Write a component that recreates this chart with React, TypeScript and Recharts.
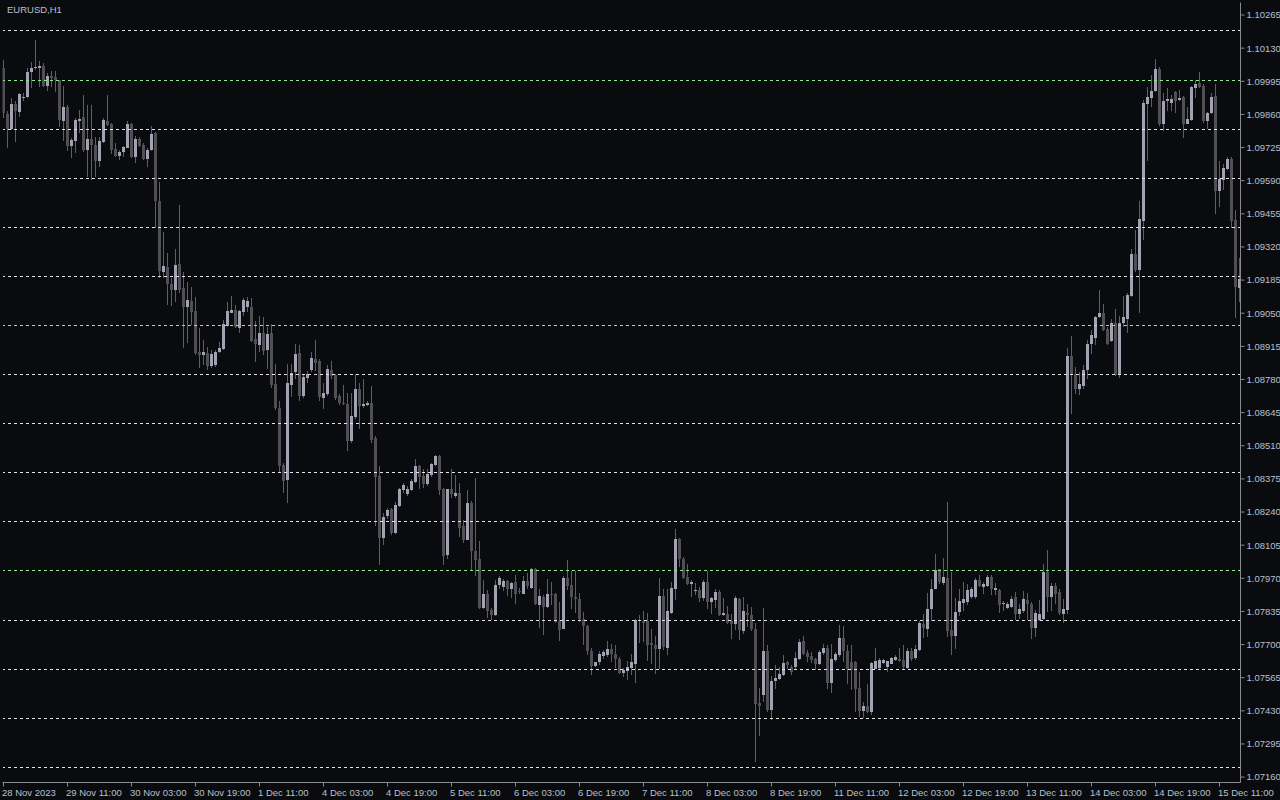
import { ComposedChart, Bar, XAxis, YAxis, ReferenceLine } from "recharts";

// EURUSD H1 candles, 28 Nov 2023 19:00 .. 15 Dec 2023
const opens = [
  1.10049, 1.09862, 1.098, 1.09903, 1.09868, 1.09925, 1.09933, 1.10031, 1.10051, 1.10051,
  1.10058, 1.09974, 1.10017, 1.10013, 1.1, 1.09835, 1.09891, 1.09733, 1.09752, 1.09835,
  1.09849, 1.09715, 1.0976, 1.09736, 1.09671, 1.09748, 1.09834, 1.09821, 1.0972, 1.09692,
  1.09705, 1.09725, 1.0982, 1.09688, 1.0976, 1.09734, 1.0968, 1.09713, 1.09783, 1.09506,
  1.09219, 1.09237, 1.09171, 1.09144, 1.09249, 1.09152, 1.09076, 1.09099, 1.09059, 1.08891,
  1.08879, 1.08888, 1.08834, 1.08838, 1.08891, 1.08906, 1.08997, 1.09052, 1.09065, 1.08991,
  1.09056, 1.09076, 1.09077, 1.08944, 1.08921, 1.08969, 1.08901, 1.08969, 1.08761, 1.08665,
  1.08433, 1.0837, 1.08757, 1.08811, 1.08887, 1.08713, 1.08786, 1.08818, 1.08865, 1.08856,
  1.08705, 1.0872, 1.08819, 1.08799, 1.08713, 1.08686, 1.08679, 1.08528, 1.08627, 1.0874,
  1.08671, 1.08676, 1.08683, 1.0854, 1.08385, 1.08134, 1.08222, 1.08251, 1.08155, 1.08264,
  1.08328, 1.08313, 1.0833, 1.08362, 1.08426, 1.08387, 1.08354, 1.08389, 1.0843, 1.08467,
  1.08332, 1.08063, 1.08332, 1.08305, 1.08316, 1.08183, 1.08128, 1.08278, 1.08083, 1.08047,
  1.07849, 1.07908, 1.0784, 1.07822, 1.07942, 1.07934, 1.07961, 1.07928, 1.07953, 1.07918,
  1.07908, 1.07958, 1.07932, 1.08006, 1.07863, 1.07892, 1.07855, 1.07904, 1.07904, 1.07794,
  1.07765, 1.07973, 1.07941, 1.07892, 1.07884, 1.07806, 1.07775, 1.07675, 1.07612, 1.07629,
  1.07652, 1.07656, 1.0768, 1.07663, 1.07643, 1.07586, 1.07594, 1.07606, 1.07622, 1.07802,
  1.07794, 1.07794, 1.07708, 1.077, 1.07681, 1.07896, 1.07688, 1.0783, 1.07928, 1.0813,
  1.08048, 1.07977, 1.07946, 1.0792, 1.07924, 1.07888, 1.07953, 1.07874, 1.07882, 1.07916,
  1.0782, 1.07826, 1.07794, 1.07782, 1.07885, 1.07754, 1.07829, 1.07822, 1.07765, 1.07463,
  1.07493, 1.07675, 1.07435, 1.07552, 1.07561, 1.07574, 1.0763, 1.07608, 1.07608, 1.07642,
  1.07716, 1.07667, 1.07653, 1.07642, 1.07619, 1.07667, 1.07687, 1.07544, 1.07639, 1.07656,
  1.07728, 1.07673, 1.0763, 1.0763, 1.07524, 1.0743, 1.0745, 1.07425, 1.07601, 1.07604,
  1.07626, 1.07607, 1.07622, 1.07638, 1.07642, 1.07637, 1.07605, 1.07675, 1.07644, 1.07679,
  1.07785, 1.07765, 1.07843, 1.07928, 1.08007, 1.07952, 1.07973, 1.0776, 1.07733, 1.07833,
  1.07871, 1.07873, 1.07892, 1.07892, 1.07965, 1.07933, 1.07939, 1.07975, 1.07922, 1.07923,
  1.07867, 1.07848, 1.07853, 1.07892, 1.07825, 1.07836, 1.07883, 1.07864, 1.07767, 1.07802,
  1.07806, 1.07996, 1.07895, 1.07939, 1.07914, 1.07825, 1.07841, 1.08874, 1.08802, 1.0874,
  1.08752, 1.08817, 1.08923, 1.08951, 1.09036, 1.09051, 1.08986, 1.08936, 1.09012, 1.08799,
  1.09009, 1.09025, 1.09121, 1.09293, 1.09227, 1.09425, 1.09902, 1.09925, 1.09956, 1.10045,
  1.09822, 1.09914, 1.09908, 1.09952, 1.0992, 1.09931, 1.09822, 1.09838, 1.09967, 1.09989,
  1.09975, 1.09835, 1.09866, 1.09936, 1.0955, 1.09593, 1.09637, 1.09679, 1.09428, 1.09154,
];

const highs = [
  1.10083, 1.09872, 1.09926, 1.09913, 1.09949, 1.09949, 1.10051, 1.10072, 1.10164, 1.10079,
  1.10069, 1.10028, 1.10035, 1.10038, 1.10001, 1.09977, 1.09899, 1.09763, 1.09845, 1.09879,
  1.0994, 1.09899, 1.09899, 1.0977, 1.0977, 1.09846, 1.0994, 1.09827, 1.09743, 1.09715,
  1.09732, 1.09835, 1.09824, 1.09773, 1.09767, 1.09743, 1.09722, 1.09812, 1.0979, 1.09585,
  1.09382, 1.09294, 1.09192, 1.0931, 1.09491, 1.09218, 1.09178, 1.09158, 1.09117, 1.08991,
  1.0894, 1.08913, 1.08902, 1.08899, 1.08933, 1.09022, 1.09097, 1.0912, 1.09083, 1.09063,
  1.0911, 1.09117, 1.09114, 1.09019, 1.09037, 1.09033, 1.08992, 1.09005, 1.08842, 1.08693,
  1.08441, 1.08842, 1.08842, 1.08924, 1.0892, 1.08801, 1.08815, 1.08893, 1.0894, 1.08863,
  1.08767, 1.08838, 1.08856, 1.08804, 1.0872, 1.08757, 1.08723, 1.08723, 1.08801, 1.08765,
  1.08781, 1.08693, 1.08754, 1.0855, 1.08427, 1.08237, 1.08257, 1.08257, 1.08282, 1.08339,
  1.08359, 1.08346, 1.08373, 1.08455, 1.08433, 1.08417, 1.08417, 1.08441, 1.08471, 1.08471,
  1.08339, 1.08335, 1.08417, 1.08391, 1.08357, 1.08206, 1.0833, 1.08285, 1.0838, 1.08121,
  1.07965, 1.07921, 1.07849, 1.07965, 1.0798, 1.07969, 1.07965, 1.07956, 1.07983, 1.07931,
  1.0798, 1.0799, 1.0801, 1.0801, 1.07926, 1.07901, 1.07969, 1.07956, 1.07912, 1.07874,
  1.0798, 1.08043, 1.07999, 1.07999, 1.07912, 1.07833, 1.07779, 1.07688, 1.07629, 1.07673,
  1.07677, 1.07716, 1.07704, 1.077, 1.07648, 1.07605, 1.07635, 1.07663, 1.07806, 1.0782,
  1.07836, 1.0783, 1.07765, 1.07735, 1.07972, 1.07928, 1.07928, 1.07956, 1.08169, 1.08135,
  1.08055, 1.0803, 1.07965, 1.07949, 1.07935, 1.07965, 1.07999, 1.07894, 1.07928, 1.07922,
  1.07888, 1.07856, 1.07826, 1.07898, 1.07888, 1.07892, 1.07867, 1.07853, 1.07789, 1.07524,
  1.0785, 1.07697, 1.0757, 1.07615, 1.07608, 1.07659, 1.07635, 1.07615, 1.07669, 1.07724,
  1.07733, 1.07676, 1.07669, 1.07645, 1.07676, 1.07703, 1.07697, 1.07701, 1.07669, 1.07781,
  1.07774, 1.07697, 1.07697, 1.07631, 1.07588, 1.07468, 1.0754, 1.07629, 1.07687, 1.07645,
  1.07642, 1.07635, 1.07649, 1.07656, 1.07686, 1.07697, 1.07687, 1.07686, 1.07699, 1.07795,
  1.07826, 1.0791, 1.07969, 1.08067, 1.08009, 1.08053, 1.08279, 1.07996, 1.07891, 1.07928,
  1.07955, 1.07948, 1.07935, 1.07971, 1.07985, 1.07955, 1.07985, 1.07985, 1.0795, 1.07926,
  1.07879, 1.07875, 1.07898, 1.07914, 1.07864, 1.07919, 1.07911, 1.07872, 1.07841, 1.07883,
  1.08028, 1.08085, 1.0795, 1.0795, 1.07926, 1.07887, 1.08908, 1.08958, 1.0883, 1.08811,
  1.08838, 1.08942, 1.08983, 1.0904, 1.09145, 1.09087, 1.08993, 1.09025, 1.09067, 1.0904,
  1.09121, 1.09134, 1.0931, 1.09391, 1.09508, 1.0992, 1.0997, 1.10022, 1.10084, 1.10053,
  1.09947, 1.09967, 1.09941, 1.09955, 1.09959, 1.09936, 1.09889, 1.09975, 1.10001, 1.10033,
  1.09983, 1.09871, 1.09947, 1.09983, 1.09671, 1.09656, 1.09687, 1.09687, 1.09472, 1.09274,
];

const lows = [
  1.09845, 1.09722, 1.09797, 1.09749, 1.09849, 1.09913, 1.09926, 1.09967, 1.10039, 1.09971,
  1.09971, 1.09956, 1.0997, 1.09953, 1.09807, 1.09752, 1.09709, 1.09681, 1.09702, 1.09783,
  1.09705, 1.09607, 1.09593, 1.09607, 1.09647, 1.09743, 1.09811, 1.09699, 1.09688, 1.09675,
  1.09688, 1.09722, 1.09681, 1.09664, 1.09727, 1.09675, 1.09645, 1.09709, 1.09396, 1.09192,
  1.09192, 1.09083, 1.09079, 1.09097, 1.09131, 1.0891, 1.08929, 1.09001, 1.08879, 1.08825,
  1.08838, 1.08818, 1.08825, 1.08831, 1.08886, 1.08902, 1.08995, 1.09049, 1.08988, 1.0897,
  1.09038, 1.09056, 1.08931, 1.08852, 1.0889, 1.08879, 1.08822, 1.08747, 1.08656, 1.084,
  1.08319, 1.08278, 1.0871, 1.08781, 1.08693, 1.08706, 1.08767, 1.08811, 1.08815, 1.08693,
  1.08659, 1.08713, 1.08781, 1.08697, 1.08676, 1.08675, 1.08489, 1.08523, 1.08618, 1.08577,
  1.08665, 1.08672, 1.08523, 1.08183, 1.08026, 1.08105, 1.0821, 1.08145, 1.08149, 1.08261,
  1.08319, 1.08305, 1.08325, 1.08357, 1.08335, 1.08339, 1.08346, 1.08384, 1.08427, 1.08308,
  1.08026, 1.08049, 1.08298, 1.08298, 1.08139, 1.08115, 1.08124, 1.08002, 1.07979, 1.07843,
  1.07843, 1.07809, 1.07802, 1.07815, 1.07928, 1.07918, 1.07896, 1.07888, 1.07867, 1.07904,
  1.07904, 1.07928, 1.07928, 1.0786, 1.07769, 1.07741, 1.0785, 1.07863, 1.07786, 1.07714,
  1.07762, 1.07922, 1.07844, 1.07828, 1.07792, 1.077, 1.07659, 1.07575, 1.07607, 1.07616,
  1.07643, 1.0765, 1.07629, 1.07606, 1.07582, 1.07569, 1.07557, 1.07578, 1.07542, 1.07708,
  1.07711, 1.07632, 1.07622, 1.07582, 1.07602, 1.07677, 1.07659, 1.07826, 1.07881, 1.08017,
  1.07969, 1.07942, 1.07894, 1.07901, 1.07874, 1.07878, 1.07843, 1.07826, 1.07847, 1.07817,
  1.07817, 1.07782, 1.07722, 1.07758, 1.07718, 1.07745, 1.07771, 1.07754, 1.07223, 1.07329,
  1.07465, 1.07425, 1.07391, 1.07517, 1.07554, 1.07571, 1.07599, 1.07577, 1.07601, 1.07638,
  1.07659, 1.07629, 1.07626, 1.07597, 1.07615, 1.07656, 1.0752, 1.07504, 1.07629, 1.07649,
  1.07629, 1.0754, 1.07513, 1.07427, 1.07404, 1.074, 1.07422, 1.07414, 1.07599, 1.07601,
  1.07622, 1.07588, 1.07619, 1.07634, 1.07629, 1.07601, 1.07601, 1.07635, 1.07639, 1.07672,
  1.07727, 1.07731, 1.07795, 1.07925, 1.07948, 1.07944, 1.07731, 1.07659, 1.0768, 1.07816,
  1.07835, 1.07863, 1.07887, 1.07887, 1.07935, 1.07907, 1.07935, 1.07901, 1.07903, 1.0783,
  1.07836, 1.07845, 1.07848, 1.07802, 1.07805, 1.0783, 1.07802, 1.07724, 1.07731, 1.07797,
  1.07802, 1.07833, 1.07836, 1.07867, 1.0782, 1.07789, 1.07825, 1.0864, 1.08721, 1.08718,
  1.0874, 1.08783, 1.08884, 1.0892, 1.09032, 1.08978, 1.0892, 1.08931, 1.08796, 1.08788,
  1.08993, 1.0897, 1.09118, 1.09219, 1.09051, 1.09349, 1.09671, 1.09889, 1.09952, 1.09811,
  1.09793, 1.09874, 1.09874, 1.09866, 1.09913, 1.09762, 1.09819, 1.09835, 1.09928, 1.09967,
  1.09827, 1.09799, 1.09861, 1.09453, 1.09481, 1.09553, 1.09632, 1.09399, 1.09032, 1.09095,
];

const closes = [
  1.09865, 1.098, 1.09903, 1.09872, 1.09944, 1.09933, 1.10034, 1.1005, 1.10055, 1.10059,
  1.09977, 1.10017, 1.10008, 1.1, 1.09838, 1.09891, 1.09733, 1.09756, 1.09838, 1.09843,
  1.09715, 1.0976, 1.09736, 1.09671, 1.09752, 1.09838, 1.09817, 1.09713, 1.09692, 1.09707,
  1.09728, 1.0982, 1.09688, 1.0976, 1.09732, 1.0968, 1.09715, 1.09781, 1.09509, 1.09223,
  1.09242, 1.09169, 1.09144, 1.09246, 1.09144, 1.09076, 1.09103, 1.09056, 1.08888, 1.08879,
  1.08891, 1.08834, 1.08883, 1.08891, 1.08909, 1.09008, 1.09059, 1.09065, 1.08995, 1.09059,
  1.09103, 1.09101, 1.08937, 1.08924, 1.08971, 1.08897, 1.08965, 1.08757, 1.08664, 1.08427,
  1.08366, 1.08767, 1.08808, 1.08883, 1.08713, 1.08791, 1.08804, 1.08867, 1.08846, 1.08709,
  1.08727, 1.08822, 1.08795, 1.08703, 1.08683, 1.08679, 1.08529, 1.08631, 1.0874, 1.08672,
  1.08682, 1.08686, 1.08532, 1.08382, 1.08134, 1.08221, 1.08247, 1.08153, 1.08267, 1.08332,
  1.0835, 1.08332, 1.08366, 1.08426, 1.08382, 1.08354, 1.08396, 1.08434, 1.08467, 1.0833,
  1.0806, 1.08332, 1.08312, 1.08316, 1.08174, 1.08128, 1.08275, 1.08081, 1.08044, 1.07849,
  1.07908, 1.07836, 1.07822, 1.07941, 1.07973, 1.07961, 1.07926, 1.07949, 1.07908, 1.07915,
  1.07961, 1.07937, 1.08006, 1.07867, 1.07896, 1.07855, 1.07908, 1.07901, 1.0779, 1.07761,
  1.07973, 1.07937, 1.07892, 1.07885, 1.07806, 1.07775, 1.07673, 1.07612, 1.07627, 1.07663,
  1.07669, 1.0768, 1.07663, 1.0764, 1.07586, 1.07597, 1.0761, 1.07629, 1.07801, 1.07794,
  1.07786, 1.077, 1.07697, 1.07681, 1.07896, 1.0769, 1.07835, 1.07932, 1.08132, 1.08047,
  1.07973, 1.07946, 1.07953, 1.07922, 1.07888, 1.07956, 1.07874, 1.07888, 1.07916, 1.0782,
  1.07829, 1.07786, 1.07782, 1.07888, 1.07758, 1.07835, 1.07819, 1.07762, 1.07459, 1.07448,
  1.07675, 1.07435, 1.07552, 1.07563, 1.07581, 1.07626, 1.07615, 1.0759, 1.07645, 1.0771,
  1.07663, 1.07649, 1.07639, 1.07619, 1.07669, 1.07687, 1.07544, 1.07642, 1.07663, 1.07728,
  1.07672, 1.07599, 1.07597, 1.0752, 1.0743, 1.0745, 1.07425, 1.07626, 1.07631, 1.07638,
  1.07637, 1.07631, 1.07645, 1.07648, 1.07634, 1.07608, 1.07675, 1.07642, 1.07683, 1.07789,
  1.07769, 1.07846, 1.07928, 1.08005, 1.07955, 1.07977, 1.07754, 1.07733, 1.07834, 1.07877,
  1.07887, 1.07924, 1.07928, 1.07965, 1.07939, 1.07948, 1.07975, 1.07928, 1.07929, 1.07861,
  1.07869, 1.07864, 1.07887, 1.07825, 1.07844, 1.07884, 1.07864, 1.07767, 1.0783, 1.07825,
  1.07996, 1.07895, 1.07939, 1.07908, 1.0783, 1.07845, 1.08877, 1.08802, 1.0874, 1.0876,
  1.08817, 1.08926, 1.08962, 1.09036, 1.09051, 1.08983, 1.08926, 1.09009, 1.08799, 1.09012,
  1.09036, 1.09126, 1.09293, 1.09227, 1.09434, 1.09905, 1.09931, 1.09956, 1.10045, 1.09819,
  1.09916, 1.09924, 1.09924, 1.09913, 1.09928, 1.09822, 1.09843, 1.0997, 1.09983, 1.09973,
  1.09835, 1.09866, 1.09933, 1.0955, 1.09598, 1.0964, 1.09679, 1.09425, 1.09157, 1.09191,
];

// one label every 16 bars
const xTickLabels = [
  "28 Nov 2023", "29 Nov 11:00", "30 Nov 03:00", "30 Nov 19:00", "1 Dec 11:00",
  "4 Dec 03:00", "4 Dec 19:00", "5 Dec 11:00", "6 Dec 03:00", "6 Dec 19:00",
  "7 Dec 11:00", "8 Dec 03:00", "8 Dec 19:00", "11 Dec 11:00", "12 Dec 03:00",
  "12 Dec 19:00", "13 Dec 11:00", "14 Dec 03:00", "14 Dec 19:00", "15 Dec 11:00",
];

const yTicks = [
  1.10265, 1.1013, 1.09995, 1.0986, 1.09725, 1.0959, 1.09455, 1.0932, 1.09185, 1.0905,
  1.08915, 1.0878, 1.08645, 1.0851, 1.08375, 1.0824, 1.08105, 1.0797, 1.07835, 1.077,
  1.07565, 1.0743, 1.07295, 1.0716,
];

// horizontal level lines (every 20 pips)
const levels = [
  1.102, 1.1, 1.098, 1.096, 1.094, 1.092, 1.09, 1.088,
  1.086, 1.084, 1.082, 1.08, 1.078, 1.076, 1.074, 1.072,
];
const roundLevels = [1.1, 1.09, 1.08];

const BG = "#0a0b0f";
const FRAME = "#8a8a8a";
const TEXT = "#b7c0cc";
const BULL = "#a2a2b2";
const BEAR = "#505054";
const WICK = "#5e5e64";
const FONT = "'Liberation Sans', Arial, sans-serif";

const data = opens.map((o, i) => ({
  t: i,
  o,
  h: highs[i],
  l: lows[i],
  c: closes[i],
}));

const xTicks = xTickLabels.map((_, k) => k * 16);

function Candle(props: any) {
  const { x, y, width, height, payload } = props;
  if (x == null || y == null || !payload) return null;
  const { o, h, l, c } = payload;
  const top = Math.min(y, y + height);
  const hh = Math.abs(height);
  const k = h === l ? 0 : hh / (h - l);
  const yO = top + (h - o) * k;
  const yC = top + (h - c) * k;
  const left = Math.round(x + width / 2 - 1.5);
  const bTop = Math.min(yO, yC);
  const bH = Math.max(1, Math.abs(yO - yC));
  return (
    <g shapeRendering="crispEdges">
      <rect x={left + 1} y={top} width={1} height={Math.max(1, hh)} fill={WICK} />
      <rect x={left} y={bTop} width={3} height={bH} fill={c >= o ? BULL : BEAR} />
    </g>
  );
}

function XTick(props: any) {
  const { x, y, payload } = props;
  const label = xTickLabels[Math.round(payload.value / 16)];
  const px = Math.floor(x) + 0.5;
  return (
    <g>
      <line x1={px} x2={px} y1={y} y2={y + 4} stroke={FRAME} />
      <text x={px - 1.5} y={y + 13.5} fill={TEXT} fontSize={9.5} fontFamily={FONT} textAnchor="start">
        {label}
      </text>
    </g>
  );
}

export default function App() {
  return (
    <div style={{ position: "absolute", left: 0, top: 0, width: 1280, height: 800, background: BG }}>
      <ComposedChart
        width={1280}
        height={800}
        data={data}
        margin={{ top: 2.5, right: 0, bottom: 0, left: 2.5 }}
      >
        <XAxis
          dataKey="t"
          type="number"
          domain={[-0.25, 309.25]}
          allowDataOverflow
          ticks={xTicks}
          interval={0}
          tick={<XTick />}
          tickLine={false}
          tickSize={0}
          tickMargin={0}
          height={17.5}
          axisLine={{ stroke: FRAME }}
        />
        <XAxis
          xAxisId="top"
          dataKey="t"
          type="number"
          orientation="top"
          domain={[-0.25, 309.25]}
          allowDataOverflow
          height={0}
          tick={false}
          tickLine={false}
          axisLine={{ stroke: FRAME }}
        />
        <YAxis
          orientation="right"
          type="number"
          domain={[1.07138, 1.10316]}
          allowDataOverflow
          ticks={yTicks}
          interval={0}
          width={39.5}
          tickSize={4}
          tickMargin={2}
          tickFormatter={(v: number) => v.toFixed(5)}
          tick={{ fill: TEXT, fontSize: 9.5, fontFamily: FONT }}
          tickLine={{ stroke: FRAME }}
          axisLine={{ stroke: FRAME }}
        />
        <YAxis
          yAxisId="frame"
          orientation="left"
          type="number"
          domain={[1.07138, 1.10316]}
          width={0}
          tick={false}
          tickLine={false}
          axisLine={{ stroke: FRAME }}
        />
        {levels.map((v) => (
          <ReferenceLine
            key={v}
            y={v}
            stroke={roundLevels.includes(v) ? "#90e890" : "#e4e4e4"}
            strokeDasharray="3 3"
            shapeRendering="crispEdges"
          />
        ))}
        <Bar
          dataKey={(d: any) => [d.l, d.h]}
          barSize={3}
          shape={<Candle />}
          isAnimationActive={false}
        />
      </ComposedChart>
      <div
        style={{
          position: "absolute",
          left: 7,
          top: 5,
          fontSize: 9.5,
          lineHeight: 1,
          fontFamily: FONT,
          color: TEXT,
        }}
      >
        EURUSD,H1
      </div>
    </div>
  );
}
